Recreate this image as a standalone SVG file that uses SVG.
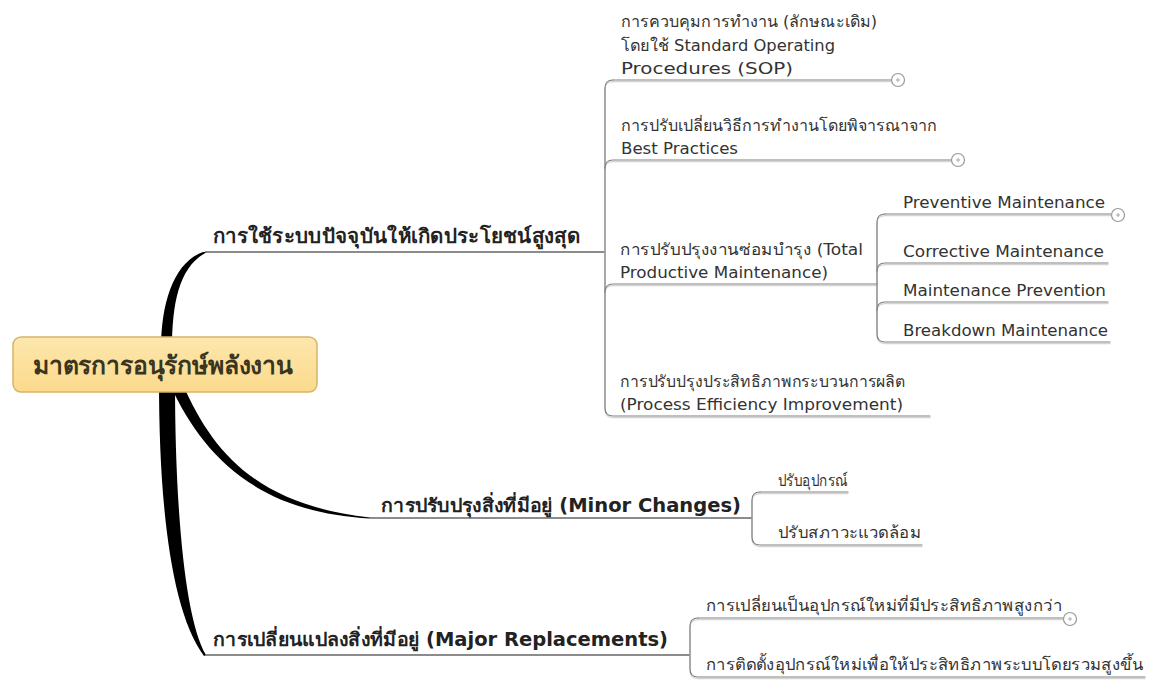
<svg xmlns="http://www.w3.org/2000/svg" xmlns:xlink="http://www.w3.org/1999/xlink" width="1150" height="680" viewBox="0 0 1150 680">
<style>
text{font-family:"DejaVu Sans","Noto Sans",sans-serif;fill:#333}
.sub{font-size:16px}
.main{font-size:19px;font-weight:bold;fill:#222}
.root{font-size:25px;font-weight:bold;fill:#3a3520}
.thin{fill:none;stroke-linecap:round}
.mainul{stroke:#666;stroke-width:1.5;fill:none}
.taper{fill:#000}
.knob circle{fill:#fff;stroke:#999;stroke-width:1.2}
.knob path{stroke:#aaa;stroke-width:1}
</style>
<defs>
<linearGradient id="rootg" x1="0" y1="0" x2="0" y2="1">
<stop offset="0" stop-color="#fde7ad"/>
<stop offset="1" stop-color="#fbda8c"/>
</linearGradient>
</defs>
<rect width="1150" height="680" fill="#fff"/>
<g id="connectors">
<path class="taper" d="M161,350 C161,300 175,262 203,252 L207,252 C180,266 172,300 172,350 Z"/>
<path class="taper" d="M159,380 C159,500 170,610 204,656 L206,655 C185,620 175,510 175,380 Z"/>
<path class="taper" d="M183,385 C212,450 255,505 370,517.5 L370,518.5 C255,512 203,455 170,385 Z"/>
<path class="mainul" d="M205,252 L605,252"/>
<path class="mainul" d="M370,518 L752,518"/>
<path class="mainul" d="M205,655 L690,655"/>
<g id="thinlines" class="thin" stroke-width="1.2">
<path d="M613,80 Q605,80 605,88 L605,408 Q605,416 613,416 L930,416"/>
<path d="M613,80 L891,80"/>
<path d="M605,168 Q605,160 613,160 L951,160"/>
<path d="M605,292 Q605,284 613,284 L877,284"/>
<path d="M885,214 Q877,214 877,222 L877,334 Q877,342 885,342 L1110,342"/>
<path d="M885,214 L1111,214"/>
<path d="M877,271 Q877,263 885,263 L1108,263"/>
<path d="M877,310 Q877,302 885,302 L1108,302"/>
<path d="M760,492 Q752,492 752,500 L752,537 Q752,545 760,545 L922,545"/>
<path d="M760,492 L848,492"/>
<path d="M698,618 Q690,618 690,626 L690,669 Q690,677 698,677 L1145,677"/>
<path d="M698,618 L1063,618"/>
</g>
<use xlink:href="#thinlines" transform="translate(0,1.6)" stroke="#d4d4d4"/>
<use xlink:href="#thinlines" stroke="#808080"/>
</g>
<g id="knobs" class="knob">
<g><circle cx="898" cy="80" r="6.5"/><path d="M896,80 H900 M898,78 V82"/></g>
<g><circle cx="958" cy="160" r="6.5"/><path d="M956,160 H960 M958,158 V162"/></g>
<g><circle cx="1118" cy="215" r="6.5"/><path d="M1116,215 H1120 M1118,213 V217"/></g>
<g><circle cx="1070" cy="619" r="6.5"/><path d="M1068,619 H1072 M1070,617 V621"/></g>
</g>
<g id="root">
<rect x="13" y="337" width="304" height="55" rx="8" fill="url(#rootg)" stroke="#d6b46a" stroke-width="1.5"/>
<text class="root" x="33" y="374" textLength="260" lengthAdjust="spacingAndGlyphs">มาตรการอนุรักษ์พลังงาน</text>
</g>
<g id="b1">
<text class="main" x="213" y="243" textLength="367" lengthAdjust="spacingAndGlyphs" style="font-size:20px">การใช้ระบบปัจจุบันให้เกิดประโยชน์สูงสุด</text>
</g>
<g id="b1-sop">
<text class="sub" x="621" y="27" textLength="256" lengthAdjust="spacingAndGlyphs">การควบคุมการทำงาน (ลักษณะเดิม)</text>
<text class="sub" x="621" y="51" textLength="214" lengthAdjust="spacingAndGlyphs">โดยใช้ Standard Operating</text>
<text class="sub" x="621" y="74" textLength="172" lengthAdjust="spacingAndGlyphs">Procedures (SOP)</text>
</g>
<g id="b1-bp">
<text class="sub" x="621" y="131" textLength="316" lengthAdjust="spacingAndGlyphs">การปรับเปลี่ยนวิธีการทำงานโดยพิจารณาจาก</text>
<text class="sub" x="621" y="154" textLength="117" lengthAdjust="spacingAndGlyphs">Best Practices</text>
</g>
<g id="b1-tpm">
<text class="sub" x="620" y="255" textLength="243" lengthAdjust="spacingAndGlyphs">การปรับปรุงงานซ่อมบำรุง (Total</text>
<text class="sub" x="620" y="278" textLength="208" lengthAdjust="spacingAndGlyphs">Productive Maintenance)</text>
</g>
<g id="tpm-pm"><text class="sub" x="903" y="208" textLength="202" lengthAdjust="spacingAndGlyphs">Preventive Maintenance</text></g>
<g id="tpm-cm"><text class="sub" x="903" y="257" textLength="201" lengthAdjust="spacingAndGlyphs">Corrective Maintenance</text></g>
<g id="tpm-mp"><text class="sub" x="903" y="296" textLength="203" lengthAdjust="spacingAndGlyphs">Maintenance Prevention</text></g>
<g id="tpm-bm"><text class="sub" x="903" y="336" textLength="205" lengthAdjust="spacingAndGlyphs">Breakdown Maintenance</text></g>
<g id="b1-pe">
<text class="sub" x="620" y="387" textLength="285" lengthAdjust="spacingAndGlyphs">การปรับปรุงประสิทธิภาพกระบวนการผลิต</text>
<text class="sub" x="620" y="410" textLength="283" lengthAdjust="spacingAndGlyphs">(Process Efficiency Improvement)</text>
</g>
<g id="b2">
<text class="main" x="381" y="512" textLength="360" lengthAdjust="spacingAndGlyphs">การปรับปรุงสิ่งที่มีอยู่ (Minor Changes)</text>
</g>
<g id="b2-1"><text class="sub" x="778" y="486" textLength="70" lengthAdjust="spacingAndGlyphs">ปรับอุปกรณ์</text></g>
<g id="b2-2"><text class="sub" x="778" y="538" textLength="143" lengthAdjust="spacingAndGlyphs">ปรับสภาวะแวดล้อม</text></g>
<g id="b3">
<text class="main" x="213" y="646" textLength="455" lengthAdjust="spacingAndGlyphs">การเปลี่ยนแปลงสิ่งที่มีอยู่ (Major Replacements)</text>
</g>
<g id="b3-1"><text class="sub" x="706" y="611" textLength="356" lengthAdjust="spacingAndGlyphs">การเปลี่ยนเป็นอุปกรณ์ใหม่ที่มีประสิทธิภาพสูงกว่า</text></g>
<g id="b3-2"><text class="sub" x="706" y="670" textLength="437" lengthAdjust="spacingAndGlyphs">การติดตั้งอุปกรณ์ใหม่เพื่อให้ประสิทธิภาพระบบโดยรวมสูงขึ้น</text></g>
</svg>
